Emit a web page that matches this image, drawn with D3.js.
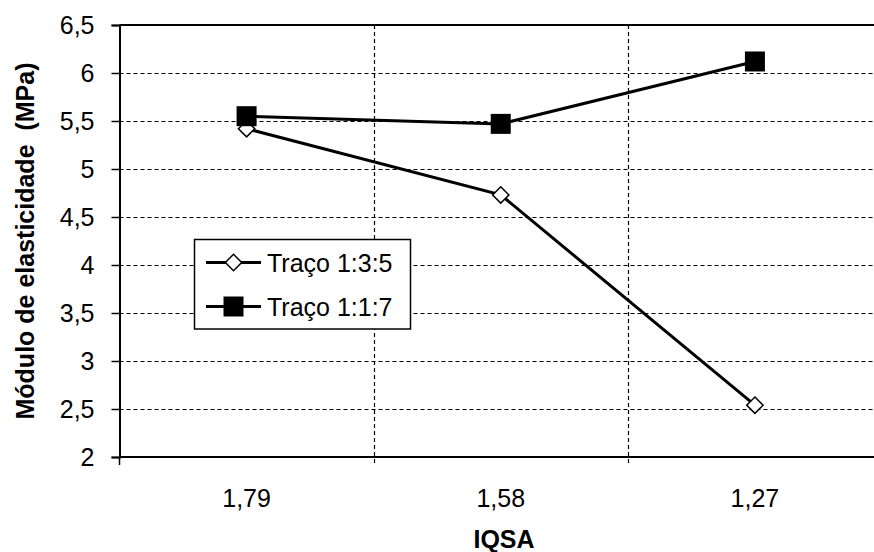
<!DOCTYPE html>
<html><head><meta charset="utf-8">
<script src="https://cdn.jsdelivr.net/npm/d3@7"></script>
<style>body{margin:0;background:#fff}svg{display:block}text{font-family:"Liberation Sans",Arial,sans-serif}</style>
</head><body><svg id="c" width="874" height="552"></svg>
<script>
const categories = ["1,79", "1,58", "1,27"];
const serieNames = ["Traço 1:3:5", "Traço 1:1:7"];
const traco135 = [5.42, 4.73, 2.54];
const traco117 = [5.55, 5.47, 6.12];
const yTicks = [2, 2.5, 3, 3.5, 4, 4.5, 5, 5.5, 6, 6.5];

const FS = 25;
const svg = d3.select("#c");
const m = {l: 119.5, t: 25, r: 882, b: 457};
const x = d3.scaleBand().domain(categories).range([m.l, m.r]);
const y = d3.scaleLinear().domain([2, 6.5]).range([m.b, m.t]);
const fmt = v => String(v).replace(".", ",");

// horizontal gridlines
svg.append("g").selectAll("line").data(yTicks.filter(v => v > 2 && v < 6.5)).join("line")
  .attr("x1", m.l).attr("x2", m.r).attr("y1", d => Math.round(y(d)) + 0.5).attr("y2", d => Math.round(y(d)) + 0.5)
  .attr("stroke", "#000").attr("stroke-width", 1.2).attr("stroke-dasharray", "4,3");
// vertical gridlines at category boundaries
const bounds = categories.slice(1).map(c => x(c));
svg.append("g").selectAll("line").data(bounds).join("line")
  .attr("x1", d => Math.round(d) + 0.5).attr("x2", d => Math.round(d) + 0.5).attr("y1", m.t).attr("y2", m.b + 8)
  .attr("stroke", "#000").attr("stroke-width", 1.2).attr("stroke-dasharray", "4,3");
// top border
svg.append("line").attr("x1", m.l).attr("x2", m.r).attr("y1", m.t).attr("y2", m.t).attr("stroke", "#000").attr("stroke-width", 2);

// y axis
const yAxis = svg.append("g").attr("transform", `translate(${m.l},0)`)
  .call(d3.axisLeft(y).tickValues(yTicks).tickFormat(fmt).tickSizeOuter(0).tickSize(8).tickPadding(17));
yAxis.select(".domain").attr("stroke-width", 2);
yAxis.selectAll(".tick line").attr("stroke-width", 1.5);
yAxis.selectAll("text").attr("font-size", FS).attr("fill", "#000").attr("font-family", "Liberation Sans, Arial, sans-serif");

// x axis
const xAxis = svg.append("g").attr("transform", `translate(0,${m.b})`)
  .call(d3.axisBottom(x).tickSize(0).tickPadding(32));
xAxis.select(".domain").attr("stroke-width", 2).attr("d", `M${m.l},0H${m.r}`);
xAxis.selectAll("text").attr("font-size", FS).attr("fill", "#000").attr("font-family", "Liberation Sans, Arial, sans-serif");
svg.append("line").attr("x1", m.l).attr("x2", m.l).attr("y1", m.b).attr("y2", m.b + 8).attr("stroke", "#000").attr("stroke-width", 1.5);

// titles
svg.append("text").attr("x", 504).attr("y", 548).attr("text-anchor", "middle")
  .attr("font-size", FS).attr("font-weight", "bold").text("IQSA");
svg.append("text").attr("transform", `translate(34,${(m.t + m.b) / 2}) rotate(-90)`).attr("text-anchor", "middle")
  .attr("font-size", FS).attr("font-weight", "bold").attr("xml:space", "preserve").style("white-space", "pre")
  .text("Módulo de elasticidade  (MPa)");

const cx = c => x(c) + x.bandwidth() / 2;
const line = d3.line().x((d, i) => cx(categories[i])).y(d => y(d));
const diamond = d3.symbol().type(d3.symbolDiamond2).size(170);
const square = d3.symbol().type(d3.symbolSquare).size(400);

svg.append("path").datum(traco135).attr("d", line).attr("fill", "none").attr("stroke", "#000").attr("stroke-width", 3);
svg.append("path").datum(traco117).attr("d", line).attr("fill", "none").attr("stroke", "#000").attr("stroke-width", 3);
svg.append("g").selectAll("path").data(traco135).join("path")
  .attr("d", diamond).attr("transform", (d, i) => `translate(${cx(categories[i])},${y(d)})`)
  .attr("fill", "#fff").attr("stroke", "#000").attr("stroke-width", 1.5);
svg.append("g").selectAll("path").data(traco117).join("path")
  .attr("d", square).attr("transform", (d, i) => `translate(${cx(categories[i])},${y(d)})`)
  .attr("fill", "#000");

// legend
const lg = svg.append("g");
lg.append("rect").attr("x", 194.5).attr("y", 239.5).attr("width", 216).attr("height", 89.5)
  .attr("fill", "#fff").attr("stroke", "#000").attr("stroke-width", 1.5);
const ly = [262.5, 306.5];
serieNames.forEach((n, i) => {
  lg.append("line").attr("x1", 206).attr("x2", 261).attr("y1", ly[i]).attr("y2", ly[i]).attr("stroke", "#000").attr("stroke-width", 3);
  lg.append("path").attr("d", i === 0 ? diamond : square).attr("transform", `translate(233.5,${ly[i]})`)
    .attr("fill", i === 0 ? "#fff" : "#000").attr("stroke", i === 0 ? "#000" : "none").attr("stroke-width", 1.5);
  lg.append("text").attr("x", 267).attr("y", ly[i] + 9.5).attr("font-size", FS).text(n);
});
</script></body></html>
